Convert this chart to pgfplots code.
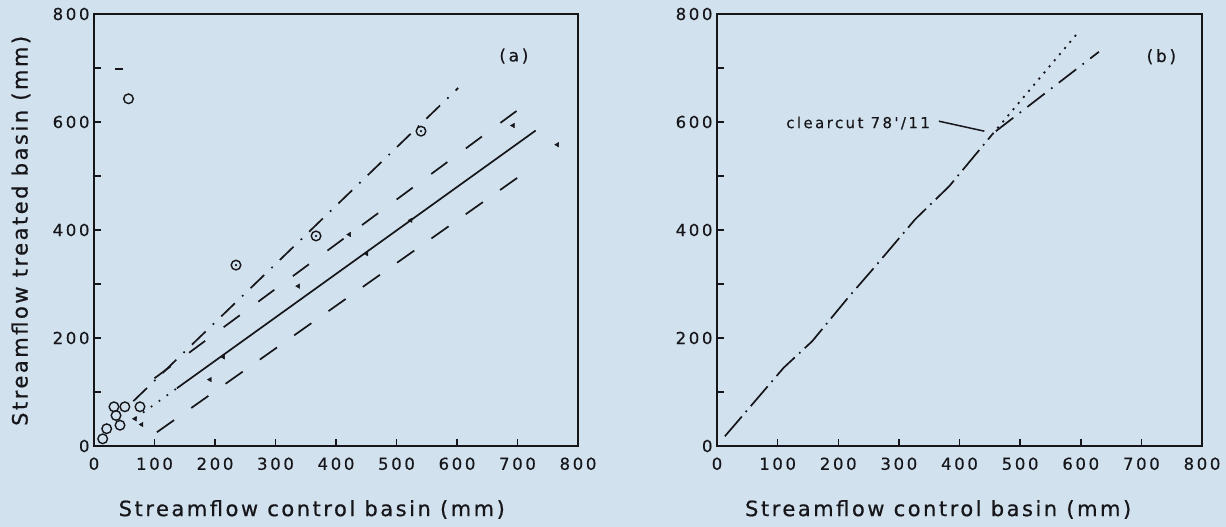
\documentclass[border=0pt]{standalone}
\usepackage{fontspec}
\setmainfont{DejaVu Sans}
\newfontfamily\lblfont[LetterSpace=12, FakeBold=0.7]{DejaVu Sans}
\newfontfamily\tkfont[LetterSpace=16, FakeBold=0.5]{DejaVu Sans}
\newfontfamily\annfont[LetterSpace=16, FakeBold=0.4]{DejaVu Sans}
\usepackage{pgfplots}
\pgfplotsset{compat=1.18}
\definecolor{bg}{RGB}{209,225,238}
\definecolor{ink}{RGB}{22,22,26}
\pgfplotsset{
 panel/.style={
  scale only axis, anchor=south west,
  xmin=0,xmax=800,ymin=0,ymax=800,
  xtick={0,100,...,800}, ytick={0,100,...,800},
  yticklabels={0,,200,,400,,600,,800},
  tick pos=left, tick align=inside, major tick length=7pt,
  axis line style={line width=1.9pt, ink},
  every tick/.style={line width=1.5pt, ink},
  tick label style={font=\fontsize{16.5}{18}\tkfont, text=ink},
  /pgf/number format/assume math mode=true,
  xticklabel style={yshift=-8pt},
  yticklabel style={xshift=-1pt},
  xlabel={Streamflow control basin (mm)},
  xlabel style={font=\fontsize{21}{24}\lblfont, text=ink, anchor=center},
  clip=false,
 }
}
\begin{document}
\begin{tikzpicture}
\path[use as bounding box, fill=bg] (0,0) rectangle (1226pt,527pt);
% ---------------- panel (a)
\begin{axis}[panel, at={(94pt,81pt)}, width=484pt, height=432pt,
 xlabel style={at={(axis description cs:0.45,-0.147)}},
 ylabel={Streamflow treated basin (mm)},
 ylabel style={font=\fontsize{21}{24}\lblfont, text=ink, at={(axis description cs:-0.151,0.498)}, anchor=center}]
% regression / band lines
\addplot[ink, line width=1.7pt, dash pattern=on 19pt off 10pt on 1.7pt off 10pt] coordinates {(65,83) (602,663)};
\addplot[ink, line width=1.7pt, dash pattern=on 20pt off 23pt] coordinates {(100,125.4) (704,625)};
\addplot[ink, line width=1.7pt] coordinates {(137,106.9) (730,584.2)};
\addplot[ink, line width=1.7pt, dash pattern=on 1.7pt off 8pt] coordinates {(68,51.3) (137,106.9)};
\addplot[ink, line width=1.7pt, dash pattern=on 21pt off 21pt] coordinates {(104,25.5) (704,500)};
\addplot[ink, line width=1.7pt] coordinates {(35,698) (48,698)};
% circles
\addplot[only marks, mark=o, mark size=4.8pt, ink, mark options={line width=1.4pt}] coordinates {
(57,643) (234.7,335) (367,389) (540.5,583)
(33,72.6) (51,72.6) (76,72.6) (36.4,56.5) (43,38.5) (21,32) (14.4,13.3)};
\addplot[only marks, mark=*, mark size=0.9pt, ink] coordinates {(234.7,335) (367,389) (540.5,583)};
% small marks
\addplot[only marks, mark=triangle*, mark size=2.6pt, ink, mark options={rotate=-30}] coordinates {
(337.7,296) (422,391.7) (450.7,356) (523.5,418) (213.7,165) (191.7,123)
(67.8,50.4) (78.8,39.8) (692.6,593.5) (765.8,558)};
\node[font=\fontsize{17}{19}\tkfont, text=ink] at (axis cs:694,722) {(a)};
\end{axis}
% ---------------- panel (b)
\begin{axis}[panel, at={(717pt,81pt)}, width=485pt, height=432pt,
 xlabel style={at={(axis description cs:0.456,-0.147)}}]
\addplot[ink, line width=1.7pt, dash pattern=on 26pt off 6pt on 1.7pt off 6pt] coordinates {
(13,18) (110,145) (157,194) (215,273) (259,330) (327,420) (383,481) (454,577)};
\addplot[ink, line width=1.8pt, dash pattern=on 2pt off 6pt] coordinates {(454,577) (595,765)};
\addplot[ink, line width=1.7pt, dash pattern=on 22pt off 8pt on 1.7pt off 8pt] coordinates {(460,583) (630,730)};
\addplot[ink, line width=1.5pt] coordinates {(366,601.5) (441,583)};
\node[anchor=east, font=\fontsize{15}{17}\annfont, text=ink] at (axis cs:357,598) {clearcut 78'/11};
\node[font=\fontsize{17}{19}\tkfont, text=ink] at (axis cs:733,721) {(b)};
\end{axis}
\end{tikzpicture}
\end{document}
